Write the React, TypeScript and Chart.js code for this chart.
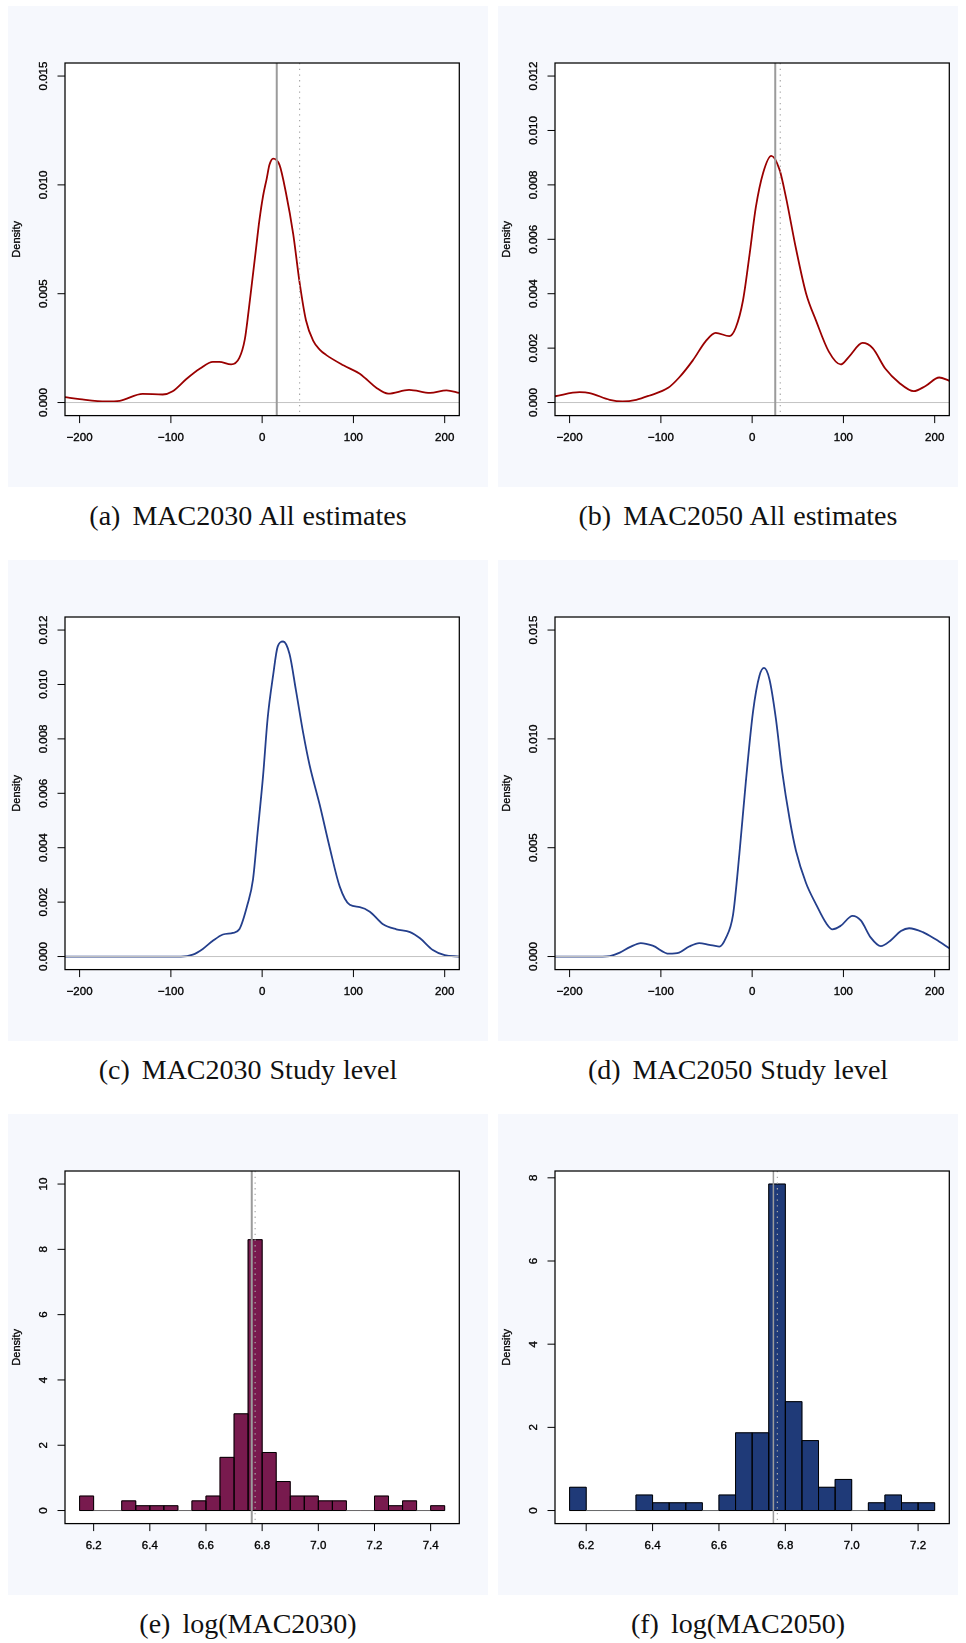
import React, { useEffect, useRef } from "react";
import { Chart, registerables } from "chart.js";

Chart.register(...registerables);

// ================= DATA =================
// Shared x axis of the four kernel-density panels
const densityXRange = [-216, 216];
const densityXTicks = [-200, -100, 0, 100, 200];
const densityXTickLabels = ["\u2212200", "\u2212100", "0", "100", "200"];

// (a) MAC2030 All estimates
const aX = [-216, -200, -171, -156, -131, -109, -98, -83, -68, -54, -47, -34, -25, -19, -15, -11, -7, -3, 1, 5, 8, 12, 19, 26, 34, 41, 48, 56, 63, 70, 89, 107, 114, 125, 138, 161, 184, 202, 216];
const aY = [0.00025, 0.00016, 0.00005, 0.00008, 0.0004, 0.00037, 0.00052, 0.00108, 0.00156, 0.00187, 0.00187, 0.00175, 0.00205, 0.0029, 0.00415, 0.00556, 0.00697, 0.00838, 0.00949, 0.01029, 0.01092, 0.01121, 0.01092, 0.00965, 0.00775, 0.00552, 0.00378, 0.00283, 0.00243, 0.00219, 0.00171, 0.00132, 0.00108, 0.00068, 0.00041, 0.00058, 0.00044, 0.00056, 0.00044];
const aYRange = [-0.0006, 0.0156];
const aYTicks = [0, 0.005, 0.01, 0.015];
const aYTickLabels = ["0.000", "0.005", "0.010", "0.015"];
const aSolidLine = 16;
const aDottedLine = 41;

// (b) MAC2050 All estimates
const bX = [-216, -189, -178, -156, -142, -127, -113, -92, -80, -65, -51, -40, -25, -18, -10, -3, 4, 12, 21, 30, 37, 48, 59, 70, 84, 97, 106, 121, 132, 146, 161, 177, 190, 205, 216];
const bY = [0.00023, 0.00038, 0.00035, 0.0001, 0.00004, 0.0001, 0.00025, 0.00054, 0.00092, 0.00155, 0.00225, 0.00256, 0.00244, 0.00275, 0.00376, 0.0054, 0.00717, 0.00844, 0.00907, 0.00856, 0.00755, 0.00566, 0.00402, 0.00301, 0.00187, 0.0014, 0.00168, 0.00219, 0.002, 0.00124, 0.00073, 0.00042, 0.00061, 0.00092, 0.0008];
const bYRange = [-0.00048, 0.01248];
const bYTicks = [0, 0.002, 0.004, 0.006, 0.008, 0.01, 0.012];
const bYTickLabels = ["0.000", "0.002", "0.004", "0.006", "0.008", "0.010", "0.012"];
const bSolidLine = 25.3;
const bDottedLine = 30.8;

// (c) MAC2030 Study level
const cX = [-216, -150, -100, -89, -76, -65, -54, -43, -32, -25, -16, -10, -5, 1, 6, 12, 17, 23, 30, 37, 45, 52, 63, 74, 85, 96, 107, 118, 132, 147, 162, 173, 187, 200, 216];
const cY = [0, 0, 0, 0, 0.00007, 0.00028, 0.00058, 0.00081, 0.00087, 0.001, 0.00192, 0.00284, 0.00455, 0.00664, 0.00875, 0.01033, 0.01139, 0.01158, 0.01112, 0.00979, 0.00821, 0.00703, 0.00559, 0.00401, 0.00257, 0.0019, 0.00182, 0.00165, 0.0012, 0.001, 0.0009, 0.00067, 0.00024, 0.00005, 0];
const cYRange = [-0.00048, 0.01248];
const cYTicks = [0, 0.002, 0.004, 0.006, 0.008, 0.01, 0.012];
const cYTickLabels = ["0.000", "0.002", "0.004", "0.006", "0.008", "0.010", "0.012"];

// (d) MAC2050 Study level
const dX = [-216, -164, -156, -145, -134, -122, -109, -91, -80, -69, -58, -47, -36, -29, -21, -14, -7, 1, 8, 13, 19, 26, 33, 41, 48, 59, 70, 81, 88, 97, 110, 119, 130, 141, 152, 163, 172, 187, 201, 216];
const dY = [0, 0, 0.00002, 0.00018, 0.00043, 0.00062, 0.0005, 0.00013, 0.00018, 0.00046, 0.00062, 0.00054, 0.00046, 0.00084, 0.0019, 0.00471, 0.00799, 0.01126, 0.0129, 0.01326, 0.01273, 0.01093, 0.00847, 0.00633, 0.00486, 0.00338, 0.0024, 0.00154, 0.00125, 0.00141, 0.00187, 0.00166, 0.00087, 0.00048, 0.00075, 0.00117, 0.0013, 0.00112, 0.00079, 0.00038];
const dYRange = [-0.0006, 0.0156];
const dYTicks = [0, 0.005, 0.01, 0.015];
const dYTickLabels = ["0.000", "0.005", "0.010", "0.015"];

// (e) log(MAC2030) histogram
const histBinWidth = 0.05;
const eBinStart = [6.15, 6.2, 6.25, 6.3, 6.35, 6.4, 6.45, 6.5, 6.55, 6.6, 6.65, 6.7, 6.75, 6.8, 6.85, 6.9, 6.95, 7.0, 7.05, 7.1, 7.15, 7.2, 7.25, 7.3, 7.35, 7.4];
const eDensity = [0.444, 0, 0, 0.296, 0.148, 0.148, 0.148, 0, 0.296, 0.444, 1.63, 2.963, 8.296, 1.778, 0.889, 0.444, 0.444, 0.296, 0.296, 0, 0, 0.444, 0.148, 0.296, 0, 0.148];
const eXRange = [6.098, 7.502];
const eYRange = [-0.4, 10.4];
const eXTicks = [6.2, 6.4, 6.6, 6.8, 7.0, 7.2, 7.4];
const eXTickLabels = ["6.2", "6.4", "6.6", "6.8", "7.0", "7.2", "7.4"];
const eYTicks = [0, 2, 4, 6, 8, 10];
const eYTickLabels = ["0", "2", "4", "6", "8", "10"];
const eSolidLine = 6.763;
const eDottedLine = 6.775;

// (f) log(MAC2050) histogram
const fBinStart = [6.15, 6.2, 6.25, 6.3, 6.35, 6.4, 6.45, 6.5, 6.55, 6.6, 6.65, 6.7, 6.75, 6.8, 6.85, 6.9, 6.95, 7.0, 7.05, 7.1, 7.15, 7.2];
const fDensity = [0.561, 0, 0, 0, 0.374, 0.187, 0.187, 0.187, 0, 0.374, 1.869, 1.869, 7.85, 2.617, 1.682, 0.561, 0.748, 0, 0.187, 0.374, 0.187, 0.187];
const fXRange = [6.106, 7.294];
const fYRange = [-0.314, 8.164];
const fXTicks = [6.2, 6.4, 6.6, 6.8, 7.0, 7.2];
const fXTickLabels = ["6.2", "6.4", "6.6", "6.8", "7.0", "7.2"];
const fYTicks = [0, 2, 4, 6, 8];
const fYTickLabels = ["0", "2", "4", "6", "8"];
const fSolidLine = 6.764;
const fDottedLine = 6.776;

// ================= STYLE =================
const PANEL_BG = "#f6f8fd";
const SANS = "'Liberation Sans', Arial, Helvetica, sans-serif";
const SERIF = "'Liberation Serif', 'Times New Roman', serif";
const RED = "#9a0000";
const NAVY = "#243f8c";
const MAROON = "#781a4e";
const HIST_BLUE = "#1f3a78";

const CANVAS_W = 480;
const CANVAS_H = 481;
const FRAME = { left: 57, top: 57, width: 394.3, height: 352.6 };

type Panel = {
  id: string;
  left: number;
  top: number;
  clipW: number;
  label: string;
  caption: string;
  kind: "density" | "hist";
  xs?: number[];
  ys?: number[];
  binStart?: number[];
  values?: number[];
  color: string;
  xRange: number[];
  yRange: number[];
  xTicks: number[];
  xTickLabels: string[];
  yTicks: number[];
  yTickLabels: string[];
  solid?: number;
  dotted?: number;
  solidWidth?: number;
};

const panels: Panel[] = [
  { id: "a", left: 8, top: 6, clipW: 480, label: "(a)", caption: "MAC2030 All estimates", kind: "density", xs: aX, ys: aY, color: RED, xRange: densityXRange, yRange: aYRange, xTicks: densityXTicks, xTickLabels: densityXTickLabels, yTicks: aYTicks, yTickLabels: aYTickLabels, solid: aSolidLine, dotted: aDottedLine, solidWidth: 2 },
  { id: "b", left: 498, top: 6, clipW: 460, label: "(b)", caption: "MAC2050 All estimates", kind: "density", xs: bX, ys: bY, color: RED, xRange: densityXRange, yRange: bYRange, xTicks: densityXTicks, xTickLabels: densityXTickLabels, yTicks: bYTicks, yTickLabels: bYTickLabels, solid: bSolidLine, dotted: bDottedLine, solidWidth: 2 },
  { id: "c", left: 8, top: 560, clipW: 480, label: "(c)", caption: "MAC2030 Study level", kind: "density", xs: cX, ys: cY, color: NAVY, xRange: densityXRange, yRange: cYRange, xTicks: densityXTicks, xTickLabels: densityXTickLabels, yTicks: cYTicks, yTickLabels: cYTickLabels },
  { id: "d", left: 498, top: 560, clipW: 460, label: "(d)", caption: "MAC2050 Study level", kind: "density", xs: dX, ys: dY, color: NAVY, xRange: densityXRange, yRange: dYRange, xTicks: densityXTicks, xTickLabels: densityXTickLabels, yTicks: dYTicks, yTickLabels: dYTickLabels },
  { id: "e", left: 8, top: 1114, clipW: 480, label: "(e)", caption: "log(MAC2030)", kind: "hist", binStart: eBinStart, values: eDensity, color: MAROON, xRange: eXRange, yRange: eYRange, xTicks: eXTicks, xTickLabels: eXTickLabels, yTicks: eYTicks, yTickLabels: eYTickLabels, solid: eSolidLine, dotted: eDottedLine, solidWidth: 2 },
  { id: "f", left: 498, top: 1114, clipW: 460, label: "(f)", caption: "log(MAC2050)", kind: "hist", binStart: fBinStart, values: fDensity, color: HIST_BLUE, xRange: fXRange, yRange: fYRange, xTicks: fXTicks, xTickLabels: fXTickLabels, yTicks: fYTicks, yTickLabels: fYTickLabels, solid: fSolidLine, dotted: fDottedLine, solidWidth: 1.5 },
];

function boldText(ctx: CanvasRenderingContext2D, text: string, x: number, y: number) {
  ctx.fillText(text, x, y);
  ctx.strokeText(text, x, y);
}

function rPlotPlugin(p: Panel) {
  return {
    id: "rplot-" + p.id,
    beforeDatasetsDraw(chart: any) {
      const { ctx, chartArea: a } = chart;
      ctx.save();
      ctx.fillStyle = "#ffffff";
      ctx.fillRect(a.left, a.top, a.right - a.left, a.bottom - a.top);
      ctx.restore();
    },
    afterDatasetsDraw(chart: any) {
      const { ctx, chartArea: a } = chart;
      const xs = chart.scales.x;
      const ys = chart.scales.y;
      ctx.save();
      ctx.beginPath();
      ctx.rect(a.left, a.top, a.right - a.left, a.bottom - a.top);
      ctx.clip();

      if (p.kind === "hist") {
        const meta = chart.getDatasetMeta(0);
        ctx.lineWidth = 1;
        meta.data.forEach((bar: any) => {
          const b = bar.getProps(["x", "y", "base", "width"], true);
          const x0 = b.x - b.width / 2;
          const x1 = b.x + b.width / 2;
          const h = b.base - b.y;
          ctx.beginPath();
          if (Math.abs(h) < 0.5) {
            ctx.strokeStyle = "#6a6a6a";
            ctx.moveTo(x0, b.base);
            ctx.lineTo(x1, b.base);
          } else {
            ctx.strokeStyle = "#000000";
            ctx.rect(x0, b.y, b.width, h);
          }
          ctx.stroke();
        });
      } else {
        const y0 = ys.getPixelForValue(0);
        ctx.strokeStyle = "#c4c4c4";
        ctx.lineWidth = 1;
        ctx.beginPath();
        ctx.moveTo(a.left, y0);
        ctx.lineTo(a.right, y0);
        ctx.stroke();
      }

      if (p.solid !== undefined) {
        const px = xs.getPixelForValue(p.solid);
        ctx.strokeStyle = "#9b9b9b";
        ctx.lineWidth = p.solidWidth || 2;
        ctx.beginPath();
        ctx.moveTo(px, a.top);
        ctx.lineTo(px, a.bottom);
        ctx.stroke();
      }
      if (p.dotted !== undefined) {
        const px = xs.getPixelForValue(p.dotted);
        ctx.strokeStyle = "#a8a8a8";
        ctx.lineWidth = 1.2;
        ctx.setLineDash([1.3, 4.4]);
        ctx.beginPath();
        ctx.moveTo(px, a.top);
        ctx.lineTo(px, a.bottom);
        ctx.stroke();
        ctx.setLineDash([]);
      }
      ctx.restore();

      // frame
      ctx.save();
      ctx.strokeStyle = "#000000";
      ctx.lineWidth = 1.25;
      ctx.strokeRect(a.left, a.top, a.right - a.left, a.bottom - a.top);

      // ticks and labels
      ctx.fillStyle = "#000000";
      ctx.font = `11.5px ${SANS}`;
      ctx.textAlign = "center";
      ctx.textBaseline = "middle";
      p.xTicks.forEach((v, i) => {
        const px = xs.getPixelForValue(v);
        ctx.lineWidth = 1;
        ctx.beginPath();
        ctx.moveTo(px, a.bottom);
        ctx.lineTo(px, a.bottom + 7.5);
        ctx.stroke();
        ctx.lineWidth = 0.35;
        boldText(ctx, p.xTickLabels[i], px, a.bottom + 22);
      });
      p.yTicks.forEach((v, i) => {
        const py = ys.getPixelForValue(v);
        ctx.lineWidth = 1;
        ctx.beginPath();
        ctx.moveTo(a.left - 7.5, py);
        ctx.lineTo(a.left, py);
        ctx.stroke();
        ctx.save();
        ctx.translate(a.left - 21, py);
        ctx.rotate(-Math.PI / 2);
        ctx.lineWidth = 0.35;
        boldText(ctx, p.yTickLabels[i], 0, 0);
        ctx.restore();
      });
      ctx.save();
      ctx.translate(a.left - 48, (a.top + a.bottom) / 2);
      ctx.rotate(-Math.PI / 2);
      ctx.font = `11px ${SANS}`;
      ctx.lineWidth = 0.3;
      boldText(ctx, "Density", 0, 0);
      ctx.restore();
      ctx.restore();
    },
  };
}

function buildConfig(p: Panel): any {
  const isHist = p.kind === "hist";
  const data = isHist
    ? (p.binStart as number[]).map((s, i) => ({ x: s + histBinWidth / 2, y: (p.values as number[])[i] }))
    : (p.xs as number[]).map((x, i) => ({ x, y: (p.ys as number[])[i] }));
  const dataset: any = isHist
    ? {
        type: "bar",
        data,
        backgroundColor: p.color,
        borderWidth: 0,
        barPercentage: 1,
        categoryPercentage: 1,
        grouped: false,
      }
    : {
        type: "line",
        data,
        borderColor: p.color,
        borderWidth: 1.8,
        pointRadius: 0,
        cubicInterpolationMode: "monotone",
        fill: false,
      };
  return {
    type: isHist ? "bar" : "line",
    data: { datasets: [dataset] },
    options: {
      responsive: false,
      maintainAspectRatio: false,
      animation: false,
      events: [],
      devicePixelRatio: 1,
      layout: {
        padding: {
          left: FRAME.left,
          top: FRAME.top,
          right: CANVAS_W - FRAME.left - FRAME.width,
          bottom: CANVAS_H - FRAME.top - FRAME.height,
        },
      },
      plugins: { legend: { display: false }, tooltip: { enabled: false } },
      scales: {
        x: { type: "linear", min: p.xRange[0], max: p.xRange[1], display: false, offset: false },
        y: { type: "linear", min: p.yRange[0], max: p.yRange[1], display: false },
      },
    },
    plugins: [rPlotPlugin(p)],
  };
}

function PanelChart({ p }: { p: Panel }) {
  const ref = useRef<HTMLCanvasElement | null>(null);
  useEffect(() => {
    if (!ref.current) return;
    const chart = new Chart(ref.current, buildConfig(p));
    return () => chart.destroy();
  }, [p]);
  return (
    <canvas
      ref={ref}
      width={CANVAS_W}
      height={CANVAS_H}
      style={{ display: "block", width: CANVAS_W, height: CANVAS_H }}
    />
  );
}

export default function App() {
  return (
    <div
      style={{
        position: "absolute",
        left: 0,
        top: 0,
        width: 966,
        height: 1643,
        background: "#ffffff",
        overflow: "hidden",
      }}
    >
      {panels.map((p) => (
        <React.Fragment key={p.id}>
          <div
            style={{
              position: "absolute",
              left: p.left,
              top: p.top,
              width: p.clipW,
              height: CANVAS_H,
              overflow: "hidden",
              background: PANEL_BG,
            }}
          >
            <PanelChart p={p} />
          </div>
          <div
            style={{
              position: "absolute",
              left: p.left,
              top: p.top + 510 - 18,
              width: CANVAS_W,
              height: 36,
              lineHeight: "36px",
              textAlign: "center",
              fontFamily: SERIF,
              fontSize: 28,
              letterSpacing: "0px",
              wordSpacing: "1px",
              color: "#111",
              whiteSpace: "nowrap",
            }}
          >
            <span style={{ marginRight: 4 }}>{p.label}</span> {p.caption}
          </div>
        </React.Fragment>
      ))}
    </div>
  );
}
